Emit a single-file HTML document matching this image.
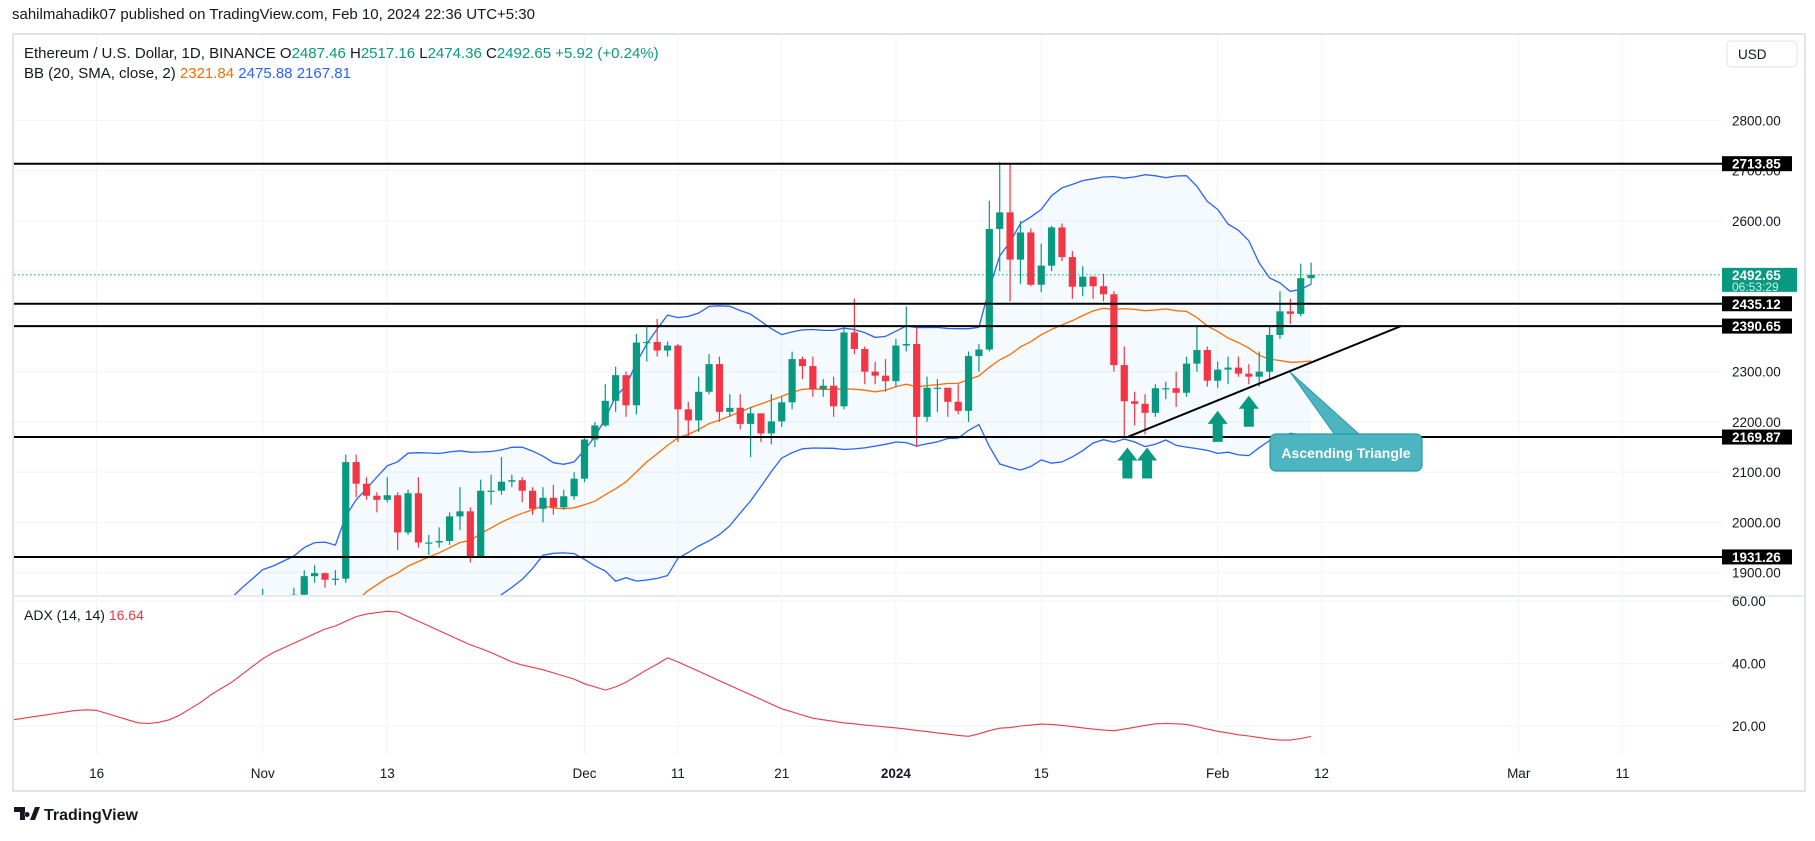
<!DOCTYPE html>
<html><head><meta charset="utf-8"><style>
body{margin:0;background:#fff;font-family:"Liberation Sans",sans-serif;}
svg text{font-family:"Liberation Sans",sans-serif;}
</style></head><body>
<svg id="c" width="1815" height="836" xmlns="http://www.w3.org/2000/svg"></svg>
<script>
const closes=[1733,1663,1656,1647,1611,1645,1633,1632,1580,1567,1566,1539,1553,1555,1558,1600,1566,1565,1567,1604,1628,1664,1762,1786,1786,1781,1777,1779,1795,1810,1815,
1846,1796,1832,1856,1893,1899,1886,1888,2120,2077,2053,2045,2054,1980,2058,1960,1960,1963,2012,2022,1930,2063,2063,2081,2084,2063,2027,2049,2030,2052,
2087,2165,2193,2242,2293,2233,2358,2359,2342,2352,2225,2203,2260,2315,2220,2228,2196,2217,2177,2201,2239,2325,2311,2265,2272,2231,2378,2345,2300,2292,2281,
2352,2355,2210,2268,2268,2240,2222,2331,2344,2584,2617,2523,2577,2473,2511,2587,2528,2469,2489,2470,2454,2313,2241,2236,2218,2267,2267,2258,2316,2343,2282,
2304,2308,2296,2290,2300,2373,2420,2415,2486,2492.65];
const highs=[1750,1745,1690,1665,1660,1650,1645,1645,1635,1590,1575,1570,1560,1565,1570,1610,1605,1580,1575,1620,1640,1670,1800,1850,1800,1830,1805,1795,1805,1825,1830,
1868,1850,1840,1870,1905,1915,1900,1905,2135,2135,2090,2060,2090,2060,2065,2090,1975,1990,2020,2070,2030,2085,2095,2130,2095,2090,2070,2070,2075,2065,
2100,2170,2200,2275,2310,2300,2375,2390,2405,2360,2355,2240,2290,2335,2330,2255,2255,2230,2215,2255,2250,2340,2330,2330,2285,2290,2390,2445,2350,2320,2325,
2365,2430,2390,2290,2285,2265,2275,2340,2355,2640,2717,2715,2600,2585,2555,2590,2595,2540,2510,2490,2495,2460,2350,2260,2255,2275,2280,2300,2330,2390,2350,
2320,2330,2330,2315,2340,2390,2460,2445,2515,2517];
const lows=[1670,1660,1640,1625,1600,1605,1625,1620,1570,1555,1540,1525,1530,1545,1550,1555,1560,1550,1550,1562,1600,1625,1660,1760,1770,1768,1770,1770,1775,1790,1795,
1802,1785,1790,1825,1855,1880,1870,1875,1880,2050,2045,2020,2040,1945,1975,1950,1935,1950,1955,1985,1920,1930,2035,2055,2070,2040,2015,2000,2015,2025,
2045,2080,2150,2190,2220,2210,2215,2320,2330,2330,2160,2170,2180,2255,2200,2210,2185,2130,2160,2155,2190,2225,2285,2250,2250,2210,2225,2335,2275,2275,2260,
2270,2340,2150,2200,2220,2210,2215,2200,2300,2340,2500,2440,2475,2470,2458,2500,2520,2445,2450,2445,2440,2300,2168,2193,2175,2210,2245,2230,2250,2300,2270,
2268,2275,2290,2275,2270,2285,2365,2395,2410,2474];
const firstDay=-92; // Oct 1 relative to Jan 1
const adxValues=[21.5,22,22.5,23,23.5,24,24.5,25,25.2,
25,24,23,22,21,20.8,21.2,
22,23.5,25.5,27.5,30,32,34,36.5,39,41.5,
43.5,45,46.5,48,49.5,51,52,53.5,55,55.8,56.3,56.7,
56.5,55,53.5,52,50.5,49,47.5,46,44.8,43.5,
42,40.5,39.5,38.8,38,37,36,35,33.5,32.5,
31.5,32.5,34,36,38,39.8,41.8,40.5,39,
37.5,36,34.5,33,31.5,30,28.5,27,25.5,24.5,
23.5,22.5,22,21.5,21,20.7,20.3,20,19.7,19.4,
19,18.6,18.2,17.8,17.4,17,16.7,17.5,18.5,19.3,
19.5,20,20.3,20.6,20.5,20.2,19.8,19.4,19,18.7,
18.5,19,19.6,20.2,20.7,20.8,20.7,20.5,19.8,19,
18.3,17.8,17.2,16.8,16.3,15.8,15.5,15.5,16,16.64];
const adxFirstDay=-86;
const priceTicks=[1900,2000,2100,2200,2300,2400,2500,2600,2700,2800];
const priceTickLabels=["1900.00","2000.00","2100.00","2200.00","2300.00",null,null,"2600.00",null,"2800.00"];
const adxTicks=[20,40,60];
const adxTickLabels=["20.00","40.00","60.00"];
const timeTickDays=[-77,-61,-49,-30,-21,-11,0,14,31,41,60,70];
const timeTickLabels=["16","Nov","13","Dec","11","21","2024","15","Feb","12","Mar","11"];
const levels=[2713.85,2435.12,2390.65,2169.87,1931.26];
const levelLabels=["2713.85","2435.12","2390.65","2169.87","1931.26"];
const trendStart=[22.3,2169.87], trendEnd=[48.7,2391];
const arrowDays=[22.3,24.2,31,34];
const arrowPrices=[2145,2145,2218,2248];

const L=14,R=1722,PT=35,PB=595,AT=597,AB=755;
const X=d=>895.9+d*10.38;
const Y=p=>120.4+(2800-p)*0.5025;
const YA=v=>601+(60-v)*3.125;
const NS="http://www.w3.org/2000/svg";
const svg=document.getElementById('c');
function mk(tag,attrs,parent){const e=document.createElementNS(NS,tag);for(const k in attrs)e.setAttribute(k,attrs[k]);(parent||svg).appendChild(e);return e;}
function txt(s,attrs,parent){const e=mk('text',attrs,parent);e.textContent=s;return e;}

const defs=mk('defs',{});
const cp=mk('clipPath',{id:'pc'},defs);mk('rect',{x:L,y:PT,width:R-L,height:PB-PT},cp);
const ca=mk('clipPath',{id:'ac'},defs);mk('rect',{x:L,y:AT,width:R-L,height:AB-AT},ca);

let t=txt('sahilmahadik07 published on TradingView.com, Feb 10, 2024 22:36 UTC+5:30',{x:12,y:19,'font-size':15,fill:'#131722'});

let f=mk('rect',{x:L-1,y:PT-1,width:1806-L,height:792-PT,fill:'none',stroke:'#e0e3eb','stroke-width':2});

mk('line',{x1:L,x2:1806,y1:596,y2:596,stroke:'#e0e3eb','stroke-width':1.5});

const grid=mk('g',{});

timeTickDays.forEach(d=>{mk('line',{x1:X(d),x2:X(d),y1:PT,y2:AB,stroke:'#f0f3fa'},grid);});
priceTicks.forEach(p=>{mk('line',{x1:L,x2:R,y1:Y(p),y2:Y(p),stroke:'#f0f3fa'},grid);});
adxTicks.forEach(v=>{mk('line',{x1:L,x2:R,y1:YA(v),y2:YA(v),stroke:'#f0f3fa'},grid);});

const pg=mk('g',{'clip-path':'url(#pc)'});
const bbU=[],bbM=[],bbL=[];
for(let i=19;i<closes.length;i++){const s=closes.slice(i-19,i+1);const m=s.reduce((a,b)=>a+b)/20;const sd=Math.sqrt(s.reduce((a,b)=>a+(b-m)*(b-m),0)/20);
const x=X(firstDay+i);bbU.push([x,Y(m+2*sd)]);bbM.push([x,Y(m)]);bbL.push([x,Y(m-2*sd)]);}
const pstr=a=>a.map(p=>p[0].toFixed(1)+','+p[1].toFixed(1)).join(' ');
let bf=mk('polygon',{points:pstr(bbU)+' '+pstr(bbL.slice().reverse()),fill:'rgba(33,150,243,0.05)'},pg);

let bu=mk('polyline',{points:pstr(bbU),fill:'none',stroke:'#2962ff','stroke-width':1.3},pg);

let bl=mk('polyline',{points:pstr(bbL),fill:'none',stroke:'#2962ff','stroke-width':1.3},pg);

let bm=mk('polyline',{points:pstr(bbM),fill:'none',stroke:'#ff6d00','stroke-width':1.3},pg);


for(let i=0;i<closes.length;i++){
 const o=i?closes[i-1]:closes[0]-20, c=closes[i], h=highs[i], l=lows[i];
 const x=X(firstDay+i), col=c>=o?'#089981':'#f23645';
 const g=mk('g',{},pg);
 
 
 mk('line',{x1:x,x2:x,y1:Y(h),y2:Y(l),stroke:col,'stroke-width':1.2},g);
 const yt=Y(Math.max(o,c)),yb=Y(Math.min(o,c));
 mk('rect',{x:x-3.6,y:yt,width:7.2,height:Math.max(1.2,yb-yt),fill:col},g);
}
mk('line',{x1:L,x2:R,y1:Y(2492.65),y2:Y(2492.65),stroke:'#089981','stroke-width':1,'stroke-dasharray':'1.5,2.5'});
levels.forEach((p,i)=>{const l=mk('line',{x1:L,x2:R,y1:Y(p),y2:Y(p),stroke:'#000','stroke-width':2});
 });
let tl=mk('line',{x1:X(trendStart[0]),y1:Y(trendStart[1]),x2:X(trendEnd[0]),y2:Y(trendEnd[1]),stroke:'#000','stroke-width':2});

arrowDays.forEach((d,i)=>{const x=X(d),y=Y(arrowPrices[i]);
 const a=mk('path',{d:`M${x} ${y-2}L${x+10} ${y+11}L${x+5} ${y+11}L${x+5} ${y+29}L${x-5} ${y+29}L${x-5} ${y+11}L${x-10} ${y+11}Z`,fill:'#089981'});
 });
const cg=mk('g',{});
mk('path',{d:'M1290 372 L1360 435 L1335 435 Z',fill:'#4db5c0',stroke:'#2a9aa6'},cg);
mk('rect',{x:1270,y:434,width:152,height:37,rx:6,fill:'#4db5c0',stroke:'#2a9aa6','stroke-width':1.2},cg);
txt('Ascending Triangle',{x:1346,y:458,'font-size':14,'font-weight':'bold',fill:'#fff','text-anchor':'middle'},cg);

const ag=mk('g',{'clip-path':'url(#ac)'});
let ap=mk('polyline',{points:adxValues.map((v,i)=>X(adxFirstDay+i).toFixed(1)+','+YA(v).toFixed(1)).join(' '),fill:'none',stroke:'#f23645','stroke-width':1.1},ag);


priceTicks.forEach((p,i)=>{if(priceTickLabels[i]){const e=txt(priceTickLabels[i],{x:1732,y:Y(p)+5,'font-size':13.5,fill:'#131722'});
 }});
txt('2700.00',{x:1732,y:Y(2700)+5,'font-size':13.5,fill:'#131722'});
adxTicks.forEach((v,i)=>{const e=txt(adxTickLabels[i],{x:1732,y:YA(v)+5,'font-size':13.5,fill:'#131722'});
 });
timeTickDays.forEach((d,i)=>{const e=txt(timeTickLabels[i],{x:X(d),y:778,'font-size':13.5,fill:'#131722','text-anchor':'middle','font-weight':timeTickLabels[i]==='2024'?'bold':'normal'});
 });
levels.forEach((p,i)=>{const y=Y(p);const g=mk('g',{});
 
 mk('rect',{x:1722,y:y-7.5,width:70,height:15,fill:'#000'},g);
 txt(levelLabels[i],{x:1732,y:y+5,'font-size':13.5,'font-weight':'bold',fill:'#fff'},g);});
const cpg=mk('g',{});
mk('rect',{x:1722,y:Y(2492.65)-7,width:75,height:24,fill:'#089981'},cpg);
txt('2492.65',{x:1732,y:Y(2492.65)+5,'font-size':13.5,'font-weight':'bold',fill:'#fff'},cpg);
txt('06:53:29',{x:1732,y:Y(2492.65)+16,'font-size':12,fill:'#d0f0e8'},cpg);

const ub=mk('g',{});
mk('rect',{x:1727,y:41,width:70,height:26,rx:4,fill:'#fff',stroke:'#e0e3eb'},ub);
txt('USD',{x:1738,y:59,'font-size':13.5,fill:'#131722'},ub);

const lg=mk('text',{x:24,y:58,'font-size':15,fill:'#131722'});

lg.setAttribute('xml:space','preserve');
lg.innerHTML='Ethereum / U.S. Dollar, 1D, BINANCE  <tspan fill="#131722">O</tspan><tspan fill="#089981">2487.46</tspan>  <tspan>H</tspan><tspan fill="#089981">2517.16</tspan>  <tspan>L</tspan><tspan fill="#089981">2474.36</tspan>  <tspan>C</tspan><tspan fill="#089981">2492.65  +5.92 (+0.24%)</tspan>';
const bbl=mk('text',{x:24,y:78,'font-size':15,fill:'#131722'});

bbl.setAttribute('xml:space','preserve');
bbl.innerHTML='BB (20, SMA, close, 2)  <tspan fill="#ff6d00">2321.84</tspan>  <tspan fill="#2962ff">2475.88</tspan>  <tspan fill="#2962ff">2167.81</tspan>';
const al=mk('text',{x:24,y:620,'font-size':14,fill:'#131722'});

al.setAttribute('xml:space','preserve');
al.innerHTML='ADX (14, 14)  <tspan fill="#f23645">16.64</tspan>';

const ft=mk('g',{});
mk('path',{d:'M14 807h11v13h-5v-8h-6z M27 812a2.5 2.5 0 1 0 .1 0z M30 820l5-13h5l-5 13z',fill:'#131722'},ft);
txt('TradingView',{x:44,y:820,'font-size':16,'font-weight':'bold',fill:'#131722'},ft);
</script>
</body></html>
